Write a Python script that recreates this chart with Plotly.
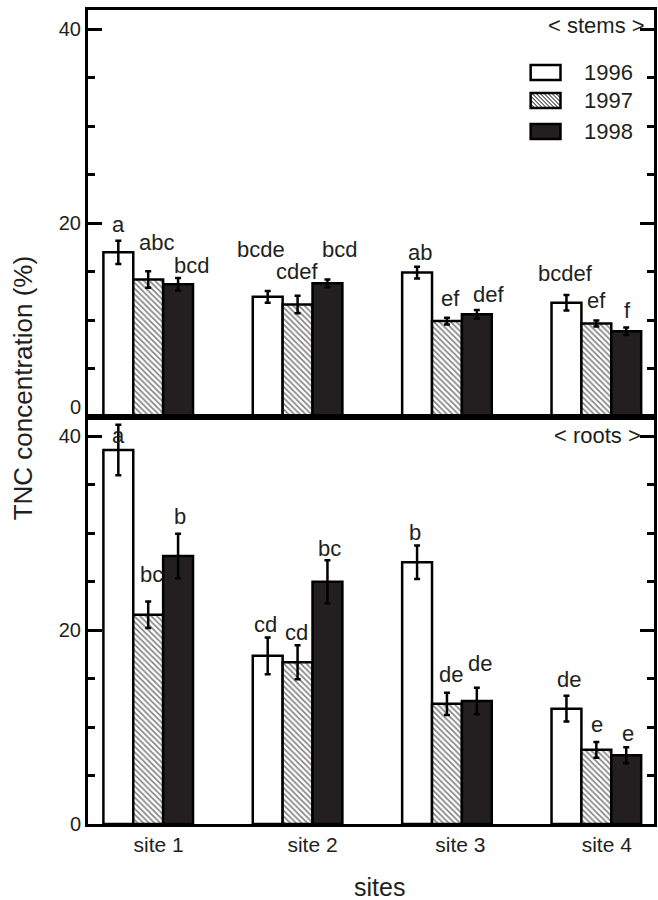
import plotly.graph_objects as go

# ---------------- data ----------------
sites = ["site 1", "site 2", "site 3", "site 4"]
site_pos = [1, 2, 3, 4]
years = ["1996", "1997", "1998"]

stems_mean = [[17.0, 12.4, 14.9, 11.8],    # 1996
              [14.2, 11.6, 9.9, 9.65],     # 1997
              [13.7, 13.8, 10.6, 8.85]]    # 1998
stems_err = [[1.2, 0.6, 0.6, 0.8],
             [0.85, 0.9, 0.35, 0.3],
             [0.65, 0.4, 0.45, 0.38]]
stems_letters = [["a", "bcde", "ab", "bcdef"],
                 ["abc", "cdef", "ef", "ef"],
                 ["bcd", "bcd", "def", "f"]]

roots_mean = [[38.6, 17.35, 27.0, 11.9],
              [21.6, 16.7, 12.4, 7.65],
              [27.65, 25.0, 12.7, 7.1]]
roots_err = [[2.6, 1.9, 1.73, 1.33],
             [1.37, 1.75, 1.15, 0.82],
             [2.3, 2.23, 1.37, 0.83]]
roots_letters = [["a", "cd", "b", "de"],
                 ["bc", "cd", "de", "e"],
                 ["b", "bc", "de", "e"]]

y_ticks = [0, 20, 40]

# ---------------- layout tweaks (pixel offsets of letters) ----------------
stems_dx = [[0, -7, 3, -1], [8, -1, 4, 0], [13, 12, 12, 1]]
stems_dy = [[16, 42, 14, 21], [29, 24, 19, 20], [12, 30, 15, 17]]
roots_dx = [[0, -2, -2, 3], [3, -1, 4, 1], [2, 2, 3, 2]]
roots_dy = [[-11, 13, 13, 16], [27, 13, 18, 17], [17, 12, 24, 14]]

W, H = 658, 900
ML, MR, MT, MB = 88, 1, 10, 76
PW, PH = W - ML - MR, H - MT - MB
DARK = "#231f20"
FONT = "Liberation Sans, Arial, sans-serif"


def pp(x, y):
    return (x - ML) / PW, (H - MB - y) / PH


fig = go.Figure()

styles = [
    dict(color="white"),
    dict(color="white", pattern=dict(shape="\\", fgcolor="black", bgcolor="white",
                                     size=4, solidity=0.38)),
    dict(color=DARK),
]

panels = [
    (stems_mean, stems_err, stems_letters, stems_dx, stems_dy, "x", "y"),
    (roots_mean, roots_err, roots_letters, roots_dx, roots_dy, "x2", "y2"),
]

annotations = []
for means, errs, letters, dxs, dys, xa, ya in panels:
    for i, yr in enumerate(years):
        fig.add_trace(go.Bar(
            x=site_pos, y=means[i], name=yr, showlegend=False,
            marker=dict(**styles[i], line=dict(color="black", width=2.5)),
            error_y=dict(type="data", array=errs[i], visible=True,
                         color="black", thickness=2.5, width=3),
            xaxis=xa, yaxis=ya,
        ))
        for j in range(len(site_pos)):
            annotations.append(dict(
                x=site_pos[j] + (i - 1) * 0.2, y=means[i][j] + errs[i][j],
                xref=xa, yref=ya, text=letters[i][j], showarrow=False,
                xshift=dxs[i][j], yshift=dys[i][j], yanchor="middle",
                font=dict(size=22, color=DARK, family=FONT),
            ))

# top panel "0" label, raised a little above its tick as in the original
annotations.append(dict(x=0, y=0, xref="paper", yref="y", text=str(y_ticks[0]),
                        showarrow=False, xanchor="right", yanchor="middle",
                        xshift=-5, yshift=10,
                        font=dict(size=20, color=DARK, family=FONT)))

# panel labels
x, y = pp(650, 25)
annotations.append(dict(x=x, y=y, xref="paper", yref="paper", text="&lt; stems &gt;",
                        showarrow=False, xanchor="right", yanchor="middle",
                        font=dict(size=22, color=DARK, family=FONT)))
x, y = pp(646, 436)
annotations.append(dict(x=x, y=y, xref="paper", yref="paper", text="&lt; roots &gt;",
                        showarrow=False, xanchor="right", yanchor="middle",
                        font=dict(size=22, color=DARK, family=FONT)))
# axis titles
x, y = pp(23, 388)
annotations.append(dict(x=x, y=y, xref="paper", yref="paper",
                        text="TNC concentration (%)", textangle=-90, showarrow=False,
                        xanchor="center", yanchor="middle",
                        font=dict(size=26, color=DARK, family=FONT)))
x, y = pp(381, 887)
annotations.append(dict(x=x, y=y, xref="paper", yref="paper", text="sites",
                        showarrow=False, xanchor="center", yanchor="middle",
                        font=dict(size=25, color=DARK, family=FONT)))

# legend (manual)
shapes = []
leg_y = [(65, 80), (93, 108), (124, 139)]
bx0, bx1 = 533, 563
for i, yr in enumerate(years):
    y0, y1 = leg_y[i]
    a0 = pp(bx0, y1)
    a1 = pp(bx1, y0)
    fill = "white" if i < 2 else DARK
    shapes.append(dict(type="rect", xref="paper", yref="paper",
                       x0=a0[0], y0=a0[1], x1=a1[0], y1=a1[1],
                       fillcolor=fill, line=dict(color="black", width=2.5), layer="above"))
    if i == 1:
        segs = []
        h = y1 - y0
        c = bx0 - h
        while c < bx1:
            ya_ = max(y0, y0 + bx0 - c)
            yb_ = min(y1, y0 + bx1 - c)
            if yb_ > ya_:
                p0 = pp(c + (ya_ - y0), ya_)
                p1 = pp(c + (yb_ - y0), yb_)
                segs.append(f"M{p0[0]:.5f},{p0[1]:.5f}L{p1[0]:.5f},{p1[1]:.5f}")
            c += 4
        shapes.append(dict(type="path", xref="paper", yref="paper", path="".join(segs),
                           line=dict(color="black", width=1), layer="above"))
    tx, ty = pp(585, (y0 + y1) / 2)
    annotations.append(dict(x=tx, y=ty, xref="paper", yref="paper", text=yr,
                            showarrow=False, xanchor="left", yanchor="middle",
                            font=dict(size=22, color=DARK, family=FONT)))

yax = dict(range=[0, 42], showline=True, linewidth=3, linecolor="black", mirror="ticks",
           ticks="inside", ticklen=14, tickwidth=3, tickcolor="black",
           tickvals=y_ticks, showgrid=False, zeroline=False,
           tickfont=dict(size=20, color=DARK, family=FONT),
           minor=dict(dtick=5, tick0=0, ticks="inside", ticklen=7, tickwidth=3,
                      tickcolor="black", showgrid=False))
xax = dict(range=[0.597, 4.386], showline=True, linewidth=3, linecolor="black",
           mirror=True, ticks="", showgrid=False, zeroline=False)

fig.update_layout(
    width=W, height=H,
    margin=dict(l=ML, r=MR, t=MT, b=MB),
    paper_bgcolor="white", plot_bgcolor="white",
    barmode="group", bargap=0.4, bargroupgap=0,
    font=dict(family=FONT, color=DARK),
    xaxis=dict(**xax, domain=[0, 1], anchor="y", showticklabels=False),
    yaxis=dict(**yax, domain=[0.5, 1], anchor="x",
               ticktext=[""] + [str(v) for v in y_ticks[1:]]),
    xaxis2=dict(**xax, domain=[0, 1], anchor="y2", tickvals=[1.07, 2.10, 3.09, 4.07],
                ticktext=sites, tickfont=dict(size=21, color=DARK, family=FONT)),
    yaxis2=dict(**yax, domain=[0, 0.5], anchor="x2"),
    annotations=annotations,
    shapes=shapes,
)

fig.write_html("out.html", config={"displayModeBar": False},
               post_script="document.body.style.margin='0';")
